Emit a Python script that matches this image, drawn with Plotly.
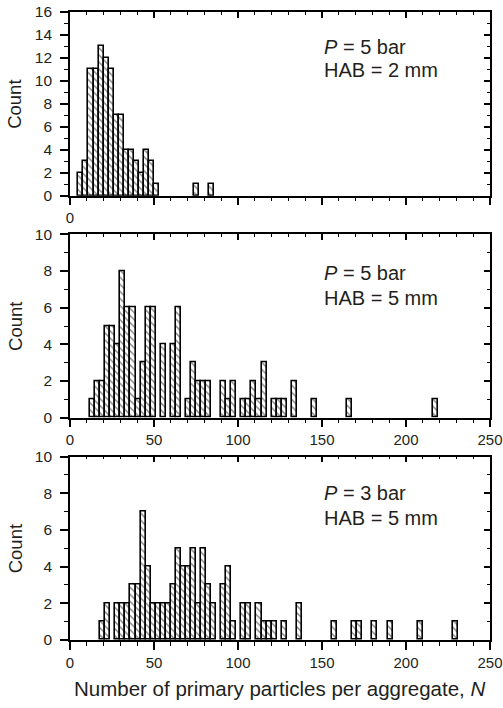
import plotly.graph_objects as go

# ---- data (bin centers, counts) ----
p1_centers = [6.5, 9.5, 12.5, 15.5, 18.5, 21.5, 24.5, 27.5, 30.5, 33.5, 36.5, 39.5,
              42.5, 45.5, 48.5, 51.5, 75.5, 84.5]
p1_counts = [2, 3, 11, 11, 13, 12, 11, 7, 7, 4, 4, 3, 2, 4, 3, 1, 1, 1]

p2_centers = [13.5, 16.5, 19.5, 22.5, 25.5, 28.5, 31.5, 34.5, 37.5, 40.5, 43.5, 46.5,
              49.5, 55.5, 61.5, 64.5, 70.5, 73.5, 76.5, 79.5, 82.5, 91.5, 94.5, 97.5,
              103.5, 106.5, 109.5, 112.5, 115.5, 121.5, 124.5, 127.5, 133.5, 145.5,
              166.5, 217.5]
p2_counts = [1, 2, 2, 5, 5, 4, 8, 6, 6, 1, 3, 6, 6, 4, 4, 6, 1, 3, 2, 2, 2, 2, 1, 2,
             1, 1, 2, 1, 3, 1, 1, 1, 2, 1, 1, 1]

p3_centers = [19.5, 22.5, 28.5, 31.5, 34.5, 37.5, 40.5, 43.5, 46.5, 49.5, 52.5, 55.5,
              58.5, 61.5, 64.5, 67.5, 70.5, 73.5, 76.5, 79.5, 82.5, 85.5, 91.5, 94.5,
              97.5, 103.5, 106.5, 112.5, 115.5, 118.5, 121.5, 127.5, 136.5, 157.5,
              169.5, 172.5, 181.5, 190.5, 208.5, 229.5]
p3_counts = [1, 2, 2, 2, 2, 3, 3, 7, 4, 2, 2, 2, 2, 3, 5, 4, 4, 5, 2, 5, 3, 2, 3, 4,
             1, 2, 2, 2, 1, 1, 1, 1, 2, 1, 1, 1, 1, 1, 1, 1]

bin_width = 3
x_ticks = [0, 50, 100, 150, 200, 250]
x_ticktext_top = ["0", "", "", "", "", ""]
x_ticktext = ["0", "50", "100", "150", "200", "250"]
y_max = [16, 10, 10]
labels = [("<i>P</i> = 5 bar", "HAB = 2 mm"),
          ("<i>P</i> = 5 bar", "HAB = 5 mm"),
          ("<i>P</i> = 3 bar", "HAB = 5 mm")]

FONT = "Liberation Sans, Arial, Helvetica, sans-serif"
TXT = "#231f20"

panels = [(p1_centers, p1_counts), (p2_centers, p2_counts), (p3_centers, p3_counts)]
domains = [[0.7075, 1.0], [0.354, 0.646], [0.0, 0.292]]
lab_y = [(0.808, 0.683), (0.789, 0.653), (0.802, 0.666)]


def ax(letter, n):
    return letter if n == 1 else f"{letter}{n}"


def lk(letter, n):
    return f"{letter}axis" if n == 1 else f"{letter}axis{n}"


fig = go.Figure()
for i, (cx, cy) in enumerate(panels):
    n = i + 1
    fig.add_trace(go.Bar(
        x=cx, y=cy, width=bin_width,
        xaxis=ax("x", n), yaxis=ax("y", n),
        marker=dict(color="white",
                    line=dict(color="black", width=1.6),
                    pattern=dict(shape="\\", size=5, solidity=0.3,
                                 fgcolor="#1a1a1a", bgcolor="white")),
        showlegend=False, hoverinfo="skip"))
    fig.add_trace(go.Scatter(x=[None], y=[None], xaxis=ax("x", n + 3), yaxis=ax("y", n),
                             showlegend=False, hoverinfo="skip"))
    fig.add_trace(go.Scatter(x=[None], y=[None], xaxis=ax("x", n), yaxis=ax("y", n + 3),
                             showlegend=False, hoverinfo="skip"))

layout = dict(
    width=503, height=708,
    margin=dict(l=70, r=13, t=12, b=68, autoexpand=False),
    paper_bgcolor="white", plot_bgcolor="white",
    font=dict(family=FONT, color=TXT, size=15),
    bargap=0,
)

axis_common = dict(showgrid=False, zeroline=False, showline=True,
                   linecolor="black", linewidth=1.6, automargin=False)
annotations = []
for i in range(3):
    n = i + 1
    layout[lk("x", n)] = dict(
        axis_common, domain=[0, 1], anchor=ax("y", n), range=[0, 250],
        tickmode="array", tickvals=x_ticks,
        ticktext=x_ticktext_top if i == 0 else x_ticktext,
        ticks="outside", ticklen=8, tickwidth=1.5, tickcolor="black",
        minor=dict(dtick=10, ticks="outside", ticklen=4, tickwidth=1.2, tickcolor="black"),
        tickfont=dict(size=15, color=TXT), ticklabelstandoff=0,
        ticklabeloverflow="allow",
    )
    layout[lk("x", n + 3)] = dict(
        axis_common, overlaying=ax("x", n), anchor=ax("y", n), side="top", range=[0, 250],
        tickmode="array", tickvals=x_ticks, showticklabels=False,
        ticks="inside", ticklen=6, tickwidth=1.5, tickcolor="black",
        minor=dict(dtick=10, ticks="inside", ticklen=3, tickwidth=1.2, tickcolor="black"),
    )
    layout[lk("y", n)] = dict(
        axis_common, domain=domains[i], anchor=ax("x", n), range=[0, y_max[i]],
        dtick=2, ticks="outside", ticklen=8, tickwidth=1.5, tickcolor="black",
        minor=dict(dtick=1, ticks="outside", ticklen=4, tickwidth=1.2, tickcolor="black"),
        tickfont=dict(size=15.5, color=TXT), ticklabelstandoff=5,
    )
    layout[lk("y", n + 3)] = dict(
        axis_common, overlaying=ax("y", n), anchor=ax("x", n), side="right",
        range=[0, y_max[i]], dtick=2, showticklabels=False,
        ticks="inside", ticklen=6, tickwidth=1.5, tickcolor="black",
        minor=dict(dtick=1, ticks="inside", ticklen=3, tickwidth=1.2, tickcolor="black"),
    )
    for txt, yy in zip(labels[i], lab_y[i]):
        annotations.append(dict(text=txt, xref=f"{ax('x', n)} domain",
                                yref=f"{ax('y', n)} domain",
                                x=0.6, y=yy, xanchor="left", yanchor="middle",
                                showarrow=False, font=dict(size=20, color=TXT)))
    annotations.append(dict(text="Count", xref="paper", yref="paper",
                            x=-0.131, y=sum(domains[i]) / 2, textangle=-90,
                            xanchor="center", yanchor="middle", showarrow=False,
                            font=dict(size=18.5, color=TXT)))

annotations.append(dict(text="Number of primary particles per aggregate, <i>N</i>",
                        xref="paper", yref="paper", x=0.5, y=-0.078,
                        xanchor="center", yanchor="middle", showarrow=False,
                        font=dict(size=20.5, color=TXT)))
layout["annotations"] = annotations
fig.update_layout(**layout)
fig.write_html("out.html", config={"displayModeBar": False},
               post_script="document.body.style.margin='0';document.body.style.overflow='hidden';")
